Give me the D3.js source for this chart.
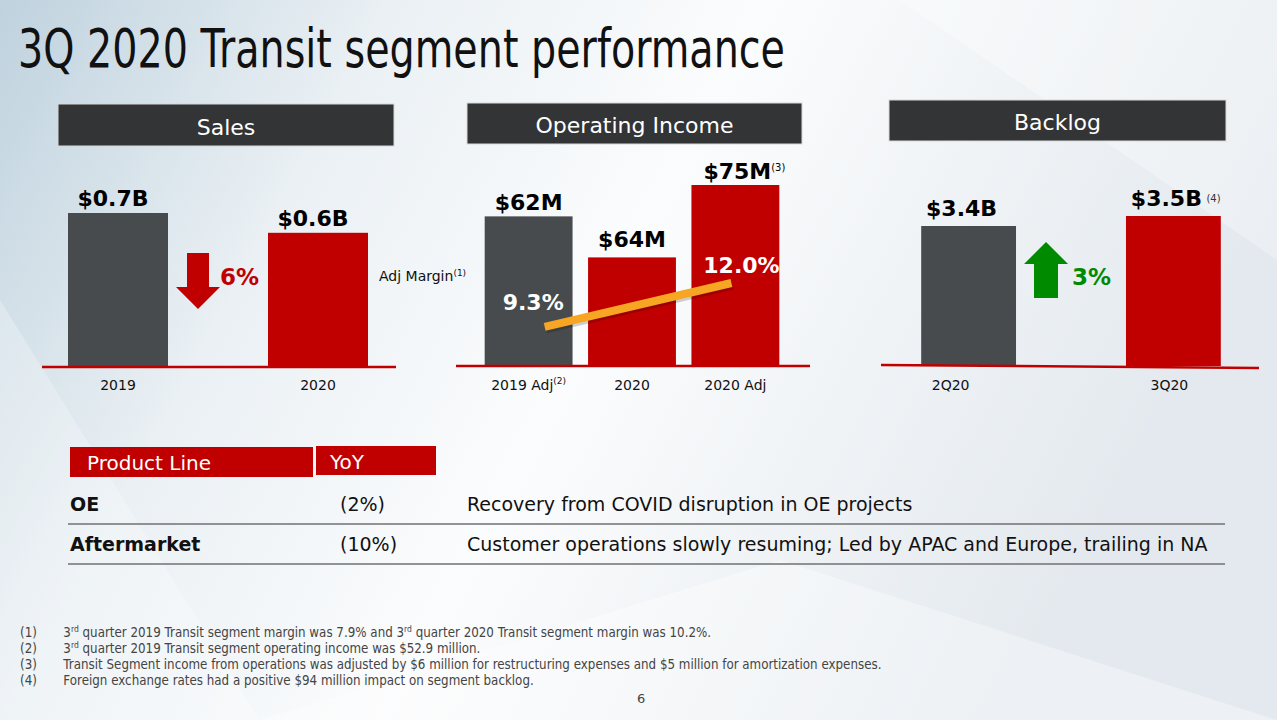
<!DOCTYPE html>
<html>
<head>
<meta charset="utf-8">
<script src="https://cdn.jsdelivr.net/npm/d3@7"></script>
<style>
  html, body { margin: 0; padding: 0; overflow: hidden; }
  svg { display: block; font-family: "DejaVu Sans", Verdana, sans-serif; }
</style>
</head>
<body>
<svg width="1277" height="720"></svg>
<script>
// --- data ---
var salesCats = ['2019', '2020']
var salesValues = [0.70, 0.61]
var salesLabels = ['$0.7B', '$0.6B']

var opCats = ['2019 Adj', '2020', '2020 Adj']
var opValues = [62, 45, 75]          // bar lengths as drawn on the slide
var opLabels = ['$62M', '$64M', '$75M']
var opSup = ['', '', '(3)']
var catSup = ['(2)', '', '']

var marginCats = ['2019 Adj', '2020 Adj']
var marginValues = [9.3, 12.0]

var backlogCats = ['2Q20', '3Q20']
var backlogValues = [3.4, 3.5]
var backlogLabels = ['$3.4B', '$3.5B']

var productLines = ['OE', 'Aftermarket']
var yoy = ['(2%)', '(10%)']
var comments = ['Recovery from COVID disruption in OE projects',
  'Customer operations slowly resuming; Led by APAC and Europe, trailing in NA']

var footnotes = [
  ['3', 'rd', ' quarter 2019 Transit segment margin was 7.9% and 3', 'rd', ' quarter 2020 Transit segment margin was 10.2%.'],
  ['3', 'rd', ' quarter 2019 Transit segment operating income was $52.9 million.'],
  ['Transit Segment income from operations was adjusted by $6 million for restructuring expenses and $5 million for amortization expenses.'],
  ['Foreign exchange rates had a positive $94 million impact on segment backlog.']
]

var grey = '#484b4e', red = '#c00000', green = '#008a00', orange = '#f6a623'

var svg = d3.select('svg')

// background
var defs = svg.append('defs')
var bg = defs.append('linearGradient').attr('id', 'bg').attr('x1', 0).attr('y1', 0).attr('x2', 1).attr('y2', 0.3)
bg.append('stop').attr('offset', '0%').attr('stop-color', '#bfd2de')
bg.append('stop').attr('offset', '28%').attr('stop-color', '#eaf0f4')
bg.append('stop').attr('offset', '55%').attr('stop-color', '#fbfcfd')
bg.append('stop').attr('offset', '100%').attr('stop-color', '#e3e9ee')
svg.append('rect').attr('width', 1277).attr('height', 720).attr('fill', 'url(#bg)')
svg.append('path').attr('d', 'M0,300 L260,720 L0,720Z').attr('fill', '#ffffff').attr('opacity', 0.25)
svg.append('path').attr('d', 'M260,720 L780,560 L1277,720Z').attr('fill', '#ffffff').attr('opacity', 0.35)
svg.append('path').attr('d', 'M900,0 L1277,0 L1277,260Z').attr('fill', '#ffffff').attr('opacity', 0.3)

// title
svg.append('text')
  .attr('x', 18).attr('y', 67)
  .attr('font-size', 53)
  .attr('textLength', 767).attr('lengthAdjust', 'spacingAndGlyphs')
  .attr('fill', '#111')
  .text('3Q 2020 Transit segment performance')

function header(x0, x1, y0, y1, label) {
  svg.append('rect').attr('x', x0).attr('y', y0).attr('width', x1 - x0).attr('height', y1 - y0)
    .attr('fill', '#333436').attr('stroke', '#d8d8d8').attr('stroke-width', 1)
  svg.append('text').attr('x', (x0 + x1) / 2).attr('y', y1 - 11)
    .attr('text-anchor', 'middle').attr('fill', '#fff').attr('font-size', 22)
    .text(label)
}

function baseline(x0, x1, y) {
  svg.append('line').attr('x1', x0).attr('x2', x1).attr('y1', y).attr('y2', y)
    .attr('stroke', red).attr('stroke-width', 2.5)
}

function catAxis(scale, y, sups) {
  var g = svg.append('g').attr('transform', 'translate(0,' + y + ')')
    .call(d3.axisBottom(scale).tickSize(0).tickPadding(0))
  g.select('.domain').remove()
  g.selectAll('text').attr('font-size', 14).attr('fill', '#111')
    .attr('font-family', '"DejaVu Sans", sans-serif').attr('dy', '0.71em')
  if (sups) {
    g.selectAll('.tick text').each(function (d, i) {
      if (sups[i]) d3.select(this).append('tspan').attr('font-size', 9).attr('dy', '-0.7em').text(sups[i])
    })
  }
  return g
}

// ---- Sales ----
header(58, 394, 104, 146, 'Sales')
var xSales = d3.scaleBand().domain(salesCats).range([18, 418]).paddingInner(0.5).paddingOuter(0.25)
var ySales = d3.scaleLinear().domain([0, 0.7]).range([367, 213])

svg.selectAll('.salesBar')
  .data(salesValues)
  .enter().append('rect')
  .attr('x', (d, i) => xSales(salesCats[i]))
  .attr('y', d => ySales(d))
  .attr('width', xSales.bandwidth())
  .attr('height', d => ySales(0) - ySales(d))
  .attr('fill', (d, i) => i == 0 ? grey : red)

svg.selectAll('.salesLbl')
  .data(salesValues)
  .enter().append('text')
  .attr('x', (d, i) => xSales(salesCats[i]) + xSales.bandwidth() / 2 - 5)
  .attr('y', d => ySales(d) - 7)
  .attr('text-anchor', 'middle').attr('font-size', 22).attr('font-weight', 'bold')
  .text((d, i) => salesLabels[i])

baseline(42, 396, 367)
catAxis(xSales, 380)

// down arrow between the bars
var ax = xSales(salesCats[0]) + xSales.bandwidth() + 30
svg.append('path')
  .attr('d', 'M' + (ax - 11) + ',253 L' + (ax + 11) + ',253 L' + (ax + 11) + ',287 L' + (ax + 22) + ',287 L' + ax + ',309 L' +
    (ax - 22) + ',287 L' + (ax - 11) + ',287Z')
  .attr('fill', red)
svg.append('text').attr('x', ax + 22).attr('y', 285)
  .attr('font-size', 23).attr('font-weight', 'bold').attr('fill', red)
  .text('6%')

// ---- Operating Income ----
header(467, 802, 103, 144, 'Operating Income')
var xOp = d3.scaleBand().domain(opCats).range([433, 831]).paddingInner(0.15).paddingOuter(0.5)
var yOp = d3.scaleLinear().domain([0, 75]).range([366, 185])

svg.selectAll('.opBar')
  .data(opValues)
  .enter().append('rect')
  .attr('x', (d, i) => xOp(opCats[i]))
  .attr('y', d => yOp(d))
  .attr('width', xOp.bandwidth())
  .attr('height', d => yOp(0) - yOp(d))
  .attr('fill', (d, i) => i == 0 ? grey : red)

var opLbl = svg.selectAll('.opLbl')
  .data(opValues)
  .enter().append('text')
  .attr('x', (d, i) => xOp(opCats[i]) + xOp.bandwidth() / 2 + (opSup[i] ? 9 : 0))
  .attr('y', (d, i) => yOp(d) - (i == 1 ? 10 : 6))
  .attr('text-anchor', 'middle').attr('font-size', 22).attr('font-weight', 'bold')
opLbl.append('tspan').text((d, i) => opLabels[i])
opLbl.filter((d, i) => opSup[i]).append('tspan')
  .attr('font-size', 10).attr('font-weight', 'normal').attr('dy', '-0.8em')
  .text((d, i) => opSup[2])

baseline(456, 810, 366)
catAxis(xOp, 380, catSup)

// margin line
var yMargin = d3.scaleLinear().domain([0, 12]).range([478, 283])
var marginX = [xOp(marginCats[0]) + 60, xOp(marginCats[1]) + 40]
var line = d3.line().x((d, i) => marginX[i]).y(d => yMargin(d))
svg.append('path').datum(marginValues)
  .attr('d', line).attr('stroke', '#000').attr('stroke-opacity', 0.18)
  .attr('stroke-width', 9).attr('fill', 'none').attr('transform', 'translate(1,2)')
svg.append('path').datum(marginValues)
  .attr('d', line).attr('stroke', orange).attr('stroke-width', 8).attr('fill', 'none')

svg.selectAll('.mLbl')
  .data(marginValues)
  .enter().append('text')
  .attr('x', (d, i) => i == 0 ? marginX[0] - 42 : marginX[1] + 10)
  .attr('y', (d, i) => i == 0 ? yMargin(d) - 17 : yMargin(d) - 10)
  .attr('text-anchor', (d, i) => i == 0 ? 'start' : 'middle')
  .attr('font-size', 22).attr('font-weight', 'bold').attr('fill', '#fff')
  .text(d => d.toFixed(1) + '%')

var am = svg.append('text').attr('x', 379).attr('y', 281).attr('font-size', 14).attr('fill', '#111')
am.append('tspan').text('Adj Margin')
am.append('tspan').attr('font-size', 9).attr('dy', '-0.6em').text('(1)')

// ---- Backlog ----
header(889, 1226, 100, 141, 'Backlog')
var xBack = d3.scaleBand().domain(backlogCats).range([870, 1272]).paddingInner(0.537).paddingOuter(0.25)
var yBack = d3.scaleLinear().domain([2.0, 3.5]).range([366, 216])

svg.selectAll('.backBar')
  .data(backlogValues)
  .enter().append('rect')
  .attr('x', (d, i) => xBack(backlogCats[i]))
  .attr('y', d => yBack(d))
  .attr('width', xBack.bandwidth())
  .attr('height', d => yBack(2.0) - yBack(d))
  .attr('fill', (d, i) => i == 0 ? grey : red)

svg.selectAll('.backLbl')
  .data(backlogValues)
  .enter().append('text')
  .attr('x', (d, i) => xBack(backlogCats[i]) + xBack.bandwidth() / 2 - 7)
  .attr('y', d => yBack(d) - 10)
  .attr('text-anchor', 'middle').attr('font-size', 22).attr('font-weight', 'bold')
  .text((d, i) => backlogLabels[i])
svg.append('text')
  .attr('x', xBack(backlogCats[1]) + xBack.bandwidth() / 2 + 33)
  .attr('y', yBack(backlogValues[1]) - 14)
  .attr('font-size', 10).attr('fill', '#333').text('(4)')

svg.append('path').attr('d', 'M881,365 L1259,368').attr('stroke', red).attr('stroke-width', 2.5)
var bAxis = catAxis(xBack, 380)
bAxis.selectAll('.tick text').attr('dx', (d, i) => i == 0 ? -18 : -4)

var bx = xBack(backlogCats[0]) + xBack.bandwidth() + 30
svg.append('path')
  .attr('d', 'M' + bx + ',242 L' + (bx + 22) + ',264 L' + (bx + 12) + ',264 L' + (bx + 12) + ',298 L' + (bx - 12) + ',298 L' +
    (bx - 12) + ',264 L' + (bx - 22) + ',264Z')
  .attr('fill', green)
svg.append('text').attr('x', bx + 26).attr('y', 285)
  .attr('font-size', 23).attr('font-weight', 'bold').attr('fill', green)
  .text('3%')

// ---- table ----
svg.append('rect').attr('x', 70).attr('y', 447).attr('width', 243).attr('height', 30).attr('fill', red)
svg.append('rect').attr('x', 316).attr('y', 446).attr('width', 120).attr('height', 29).attr('fill', red)
svg.append('text').attr('x', 87).attr('y', 470).attr('font-size', 20).attr('fill', '#fff').text('Product Line')
svg.append('text').attr('x', 330).attr('y', 469).attr('font-size', 20).attr('fill', '#fff').text('YoY')

var rowY = d3.scalePoint().domain(productLines).range([511, 551])
productLines.forEach(function (p, i) {
  var y = rowY(p)
  svg.append('text').attr('x', 70).attr('y', y).attr('font-size', 19).attr('font-weight', 'bold').attr('fill', '#111').text(p)
  svg.append('text').attr('x', 340).attr('y', y).attr('font-size', 19).attr('fill', '#111').text(yoy[i])
  svg.append('text').attr('x', 467).attr('y', y).attr('font-size', 19).attr('fill', '#111').text(comments[i])
  svg.append('line').attr('x1', 68).attr('x2', 1225).attr('y1', y + 13).attr('y2', y + 13)
    .attr('stroke', '#707070').attr('stroke-width', 1.5)
})

// ---- footnotes ----
var fn = svg.append('g').attr('transform', 'translate(20,0) scale(0.85,1)')
footnotes.forEach(function (parts, i) {
  var y = 637 + i * 16
  fn.append('text').attr('x', 0).attr('y', y).attr('font-size', 14).attr('fill', '#444').text('(' + (i + 1) + ')')
  var t = fn.append('text').attr('x', 51).attr('y', y).attr('font-size', 14).attr('fill', '#444')
  parts.forEach(function (s, k) {
    if (s == 'rd') t.append('tspan').attr('font-size', 9).attr('dy', -5).text(s)
    else t.append('tspan').attr('dy', k > 0 && parts[k - 1] == 'rd' ? 5 : 0).text(s)
  })
})
svg.append('text').attr('x', 637).attr('y', 703).attr('font-size', 13).attr('fill', '#444').text('6')
</script>
</body>
</html>
